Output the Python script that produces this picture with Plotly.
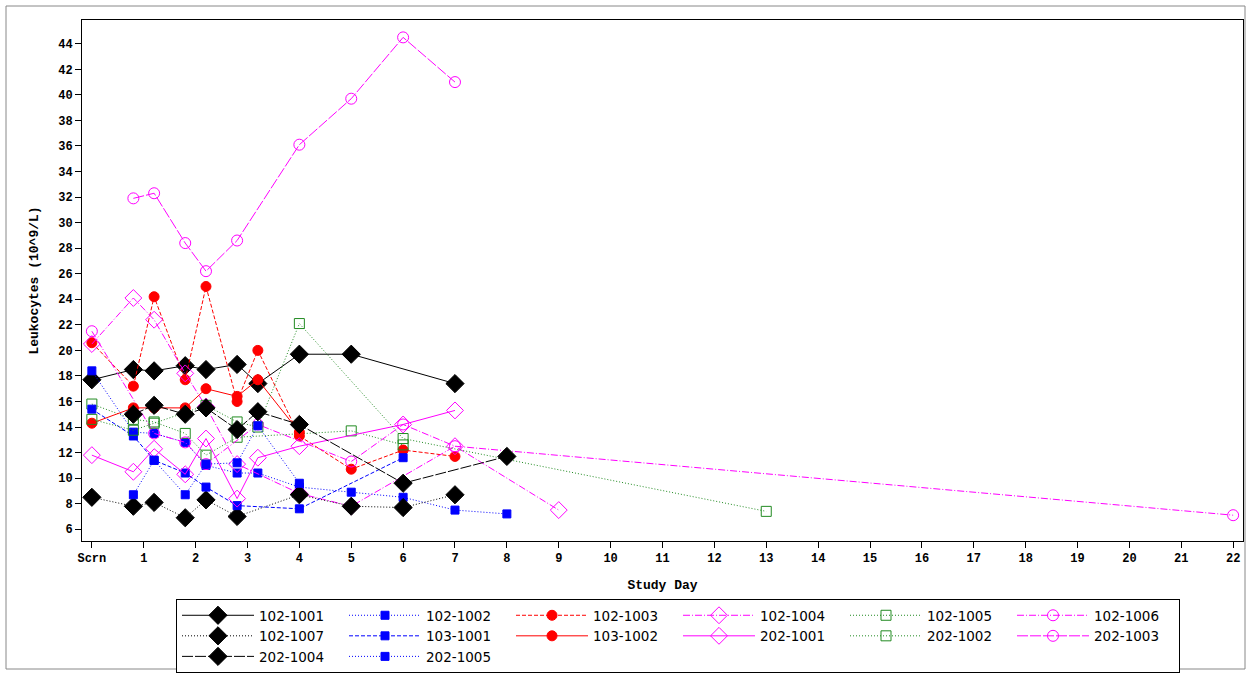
import plotly.graph_objects as go

# ---- data (x = study day position, 0 = Scrn) ----
tick_vals = list(range(0, 23))
tick_text = ["Scrn"] + [str(i) for i in range(1, 23)]
y_ticks = list(range(6, 45, 2))

s102_1001_x = [0, 0.8, 1.2, 1.8, 2.2, 2.8, 3.2, 4, 5, 7]
s102_1001_y = [17.7, 18.5, 18.4, 18.8, 18.5, 18.9, 17.4, 19.7, 19.7, 17.4]

s102_1002_x = [0, 0.8, 1.2, 1.8, 2.2, 2.8, 3.2, 4, 5, 6, 7, 8]
s102_1002_y = [18.4, 13.6, 13.5, 12.8, 11.0, 10.4, 10.4, 9.3, 8.9, 8.5, 7.5, 7.2]

s102_1003_x = [0, 0.8, 1.2, 1.8, 2.2, 2.8, 3.2, 4, 5, 6, 7]
s102_1003_y = [20.6, 17.2, 24.2, 17.7, 25.0, 16.0, 20.0, 13.3, 10.7, 12.2, 11.7]

s102_1004_x = [0, 0.8, 1.2, 1.8, 2.2, 2.8, 4, 5, 7, 9]
s102_1004_y = [20.5, 24.1, 22.4, 18.2, 15.6, 11.1, 8.8, 7.8, 12.5, 7.5]

s102_1005_x = [0, 0.8, 1.2, 1.8, 2.2, 2.8, 5, 6]
s102_1005_y = [15.8, 14.6, 14.4, 13.5, 11.8, 13.2, 13.7, 12.6]

s102_1006_x = [0, 1.2, 1.8, 2.2, 3.2, 5, 6, 7, 22]
s102_1006_y = [21.5, 13.5, 12.8, 11.1, 14.2, 11.3, 14.2, 12.5, 7.1]

s102_1007_x = [0, 0.8, 1.2, 1.8, 2.2, 2.8, 4, 5, 6, 7]
s102_1007_y = [8.5, 7.8, 8.1, 6.9, 8.3, 7.0, 8.7, 7.8, 7.7, 8.7]

s103_1001_x = [0, 0.8, 1.2, 1.8, 2.2, 2.8, 4, 6]
s103_1001_y = [15.4, 13.3, 11.4, 10.4, 9.3, 7.85, 7.6, 11.6]

s103_1002_x = [0, 0.8, 1.2, 1.8, 2.2, 2.8, 3.2, 4]
s103_1002_y = [14.3, 15.5, 15.5, 15.5, 17.0, 16.4, 17.7, 13.6]

s202_1001_x = [0, 0.8, 1.2, 1.8, 2.2, 2.8, 3.2, 4, 6, 7]
s202_1001_y = [11.8, 10.5, 12.3, 10.3, 13.1, 8.4, 11.6, 12.5, 14.2, 15.3]

s202_1002_x = [0, 0.8, 1.2, 2.2, 2.8, 3.2, 4, 6, 13]
s202_1002_y = [14.6, 13.75, 14.3, 15.7, 14.4, 14.0, 22.1, 13.1, 7.4]

s202_1003_x = [0.8, 1.2, 1.8, 2.2, 2.8, 4, 5, 6, 7]
s202_1003_y = [31.9, 32.3, 28.4, 26.2, 28.6, 36.1, 39.7, 44.5, 41.0]

s202_1004_x = [0.8, 1.2, 1.8, 2.2, 2.8, 3.2, 4, 6, 8]
s202_1004_y = [15.0, 15.7, 15.0, 15.5, 13.8, 15.2, 14.2, 9.6, 11.7]

s202_1005_x = [0.8, 1.2, 1.8, 2.2, 2.8, 3.2, 4]
s202_1005_y = [8.7, 11.4, 8.7, 11.1, 11.2, 14.1, 9.6]

BLACK, BLUE, RED, MAG, GRN = "#000000", "#0000FF", "#FF0000", "#FF00FF", "#228B22"
SOLID = "solid"
DOT = "1px,2px"
DASH = "4px,2px"
DASHDOT = "7px,2px,1px,2px"
LONGDASH = "11px,2px"

series = [
    ("102-1001", s102_1001_x, s102_1001_y, BLACK, SOLID, "diamond", 14),
    ("102-1002", s102_1002_x, s102_1002_y, BLUE, DOT, "square", 8),
    ("102-1003", s102_1003_x, s102_1003_y, RED, DASH, "circle", 10),
    ("102-1004", s102_1004_x, s102_1004_y, MAG, DASHDOT, "diamond-open", 13),
    ("102-1005", s102_1005_x, s102_1005_y, GRN, DOT, "square-open", 10),
    ("102-1006", s102_1006_x, s102_1006_y, MAG, DASHDOT, "circle-open", 11),
    ("102-1007", s102_1007_x, s102_1007_y, BLACK, DOT, "diamond", 14),
    ("103-1001", s103_1001_x, s103_1001_y, BLUE, DASH, "square", 8),
    ("103-1002", s103_1002_x, s103_1002_y, RED, SOLID, "circle", 10),
    ("202-1001", s202_1001_x, s202_1001_y, MAG, SOLID, "diamond-open", 13),
    ("202-1002", s202_1002_x, s202_1002_y, GRN, DOT, "square-open", 10),
    ("202-1003", s202_1003_x, s202_1003_y, MAG, LONGDASH, "circle-open", 11),
    ("202-1004", s202_1004_x, s202_1004_y, BLACK, LONGDASH, "diamond", 14),
    ("202-1005", s202_1005_x, s202_1005_y, BLUE, DOT, "square", 8),
]

fig = go.Figure()
# data traces (no legend entry)
for name, xs, ys, col, dash, sym, size in series:
    fig.add_trace(go.Scatter(
        x=xs, y=ys, name=name, mode="lines+markers", showlegend=False,
        legendgroup=name,
        line=dict(color=col, width=1, dash=dash),
        marker=dict(symbol=sym, size=size, color=col,
                    line=dict(color=col, width=1)),
    ))
# legend entries
for name, xs, ys, col, dash, sym, size in series:
    fig.add_trace(go.Scatter(
        x=[None], y=[None], name=name, mode="lines+markers", showlegend=True,
        legendgroup=name,
        line=dict(color=col, width=1, dash=dash),
        marker=dict(symbol=sym, size=size, color=col,
                    line=dict(color=col, width=1)),
    ))

title_font = dict(family="Liberation Mono", size=13, color="black")
tick_font = dict(family="Liberation Mono", size=12, color="black", weight="bold")

fig.update_layout(
    width=1251, height=675,
    margin=dict(l=82, r=8, t=20, b=134),
    paper_bgcolor="white", plot_bgcolor="white",
    showlegend=True,
    legend=dict(
        orientation="h", traceorder="normal",
        xref="paper", yref="container",
        x=(176 - 82) / 1161, y=(675 - 673) / 675, xanchor="left", yanchor="bottom",
        entrywidth=80, entrywidthmode="pixels", itemwidth=72,
        bordercolor="black", borderwidth=1,
        font=dict(family="DejaVu Sans", size=13.5, color="black"),
        tracegroupgap=0, itemsizing="trace",
    ),
    xaxis=dict(
        range=[-0.19, 22.19], tickmode="array", tickvals=tick_vals, ticktext=tick_text,
        ticks="outside", ticklen=6, tickcolor="black", showgrid=False, zeroline=False,
        showline=True, linecolor="black", linewidth=1, mirror=True, automargin=False,
        tickfont=tick_font,
        title=dict(text="<b>Study Day</b>", font=title_font, standoff=14),
    ),
    yaxis=dict(
        range=[5.08, 45.86], tickmode="array", tickvals=y_ticks,
        ticks="outside", ticklen=6, tickcolor="black", showgrid=False, zeroline=False,
        showline=True, linecolor="black", linewidth=1, mirror=True, automargin=False,
        tickfont=tick_font,
        title=dict(text="<b>Leukocytes (10^9/L)</b>", font=title_font, standoff=16),
    ),
    shapes=[dict(type="rect", xref="paper", yref="paper",
                 x0=(6 - 82) / 1161, x1=(1245 - 82) / 1161,
                 y0=(541 - 669) / 521, y1=(541 - 6) / 521,
                 line=dict(color="#888888", width=1), fillcolor="rgba(0,0,0,0)",
                 layer="below")],
)

fig.write_html("out.html", config={"displayModeBar": False},
               post_script="document.body.style.margin='0';")
